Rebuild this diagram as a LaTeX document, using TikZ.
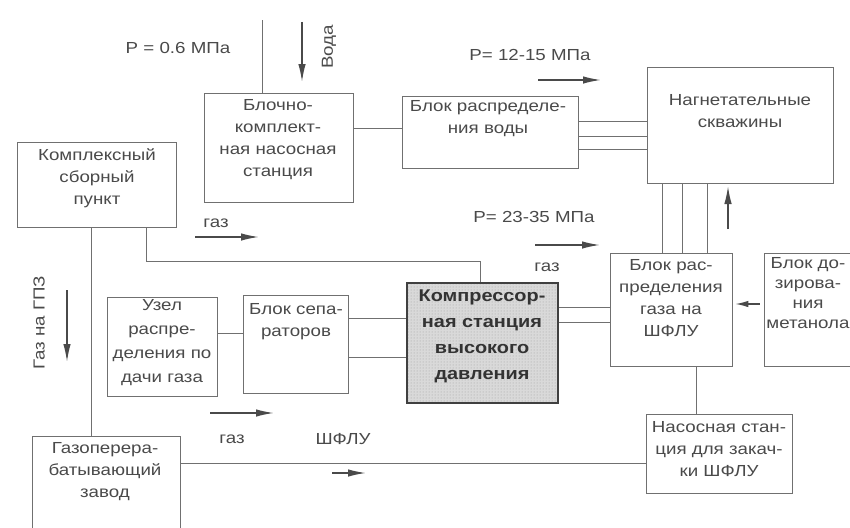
\documentclass[tikz,border=0pt]{standalone}
\usepackage{fontspec}
\setmainfont{Liberation Sans}[FakeStretch=1.17]
\usetikzlibrary{arrows.meta,patterns}
\definecolor{ink}{HTML}{4A4A4A}
\definecolor{wirec}{HTML}{707070}
\begin{document}
\begin{tikzpicture}[x=1pt,y=-1pt,
  box/.style={draw=wirec, line width=0.7pt, inner sep=0pt},
  txt/.style={text=ink, align=center, inner sep=0pt, font=\fontsize{16}{22}\selectfont},
  wire/.style={draw=wirec, line width=0.7pt},
  arr/.style={draw=ink, line width=1.6pt, -{Latex[length=18pt,width=7.5pt]}}]
\useasboundingbox (0,0) rectangle (850,527);
\clip (0,0) rectangle (850,527);
\fill[white] (0,0) rectangle (850,527);

% boxes
\node[box, minimum width=159pt, minimum height=85pt]  (ksp)  at (96.5,184.5) {};
\node[box, minimum width=149pt, minimum height=109pt] (bkns) at (278.5,147.5) {};
\node[box, minimum width=176pt, minimum height=72pt]  (brv)  at (490,132) {};
\node[box, minimum width=186pt, minimum height=116pt] (ns)   at (740,125) {};
\node[box, minimum width=122pt, minimum height=113pt] (brg)  at (671,309.5) {};
\node[box, minimum width=101pt, minimum height=113pt] (bdm)  at (814.5,309.5) {};
\node[box, draw=black!75, line width=1.3pt, preaction={fill=gray!30}, pattern=dots, pattern color=gray!75,
      minimum width=151pt, minimum height=120pt] (ks) at (482.5,343) {};
\node[box, minimum width=110pt, minimum height=99pt]  (uzel) at (162,346.5) {};
\node[box, minimum width=105pt, minimum height=98pt]  (bs)   at (295.5,344) {};
\node[box, minimum width=148pt, minimum height=104pt] (gpz)  at (106,488) {};
\node[box, minimum width=146pt, minimum height=79pt]  (nszs) at (719,453.5) {};

% box texts
\node[txt] (tksp)  at (97,178)  {Комплексный\\сборный\\пункт};
\node[txt] (tbkns) at (278,140) {Блочно-\\комплект-\\ная насосная\\станция};
\node[txt] (tbrv)  at (488,119) {Блок распределе-\\ния воды};
\node[txt] (tns)   at (740,111) {Нагнетательные\\скважины};
\node[txt] (tbrg)  at (671,298) {Блок рас-\\пределения\\газа на\\ШФЛУ};
\node[txt, font=\fontsize{16}{20}\selectfont] (tbdm) at (808,293) {Блок до-\\зирова-\\ния\\метанола};
\node[txt, text=black!80, font=\bfseries\fontsize{17}{26}\selectfont] (tks) at (482,336) {Компрессор-\\ная станция\\высокого\\давления};
\node[txt, font=\fontsize{16}{24}\selectfont] (tuzel) at (162,343) {Узел\\распре-\\деления по\\дачи газа};
\node[txt] (tbs)   at (296,322) {Блок сепа-\\раторов};
\node[txt] (tgpz)  at (105,472) {Газоперера-\\батывающий\\завод};
\node[txt] (tnszs) at (719,449) {Насосная стан-\\ция для закач-\\ки ШФЛУ};

% free labels
\node[txt] (lp06)  at (178,48)  {P = 0.6 МПа};
\node[txt, rotate=90] (lvoda) at (329,47) {Вода};
\node[txt] (lp12)  at (530,55)  {P= 12-15 МПа};
\node[txt] (lp23)  at (534,217) {P= 23-35 МПа};
\node[txt] (lgaz1) at (216,223) {газ};
\node[txt] (lgaz2) at (547,267) {газ};
\node[txt, rotate=90] (lgpz) at (39,323) {Газ на ГПЗ};
\node[txt] (lgaz3) at (232,439) {газ};
\node[txt] (lsh)   at (343,439) {ШФЛУ};

% free ends
\coordinate (wtop) at (263,20);
\coordinate (va) at (302,22);   \coordinate (vb) at (302,82);
\coordinate (a12a) at (538,80); \coordinate (a12b) at (601,80);
\coordinate (a23a) at (535,245); \coordinate (a23b) at (600,245);
\coordinate (upa) at (728,229); \coordinate (upb) at (728,186);
\coordinate (g1a) at (195,237); \coordinate (g1b) at (259,237);
\coordinate (gpa) at (67,290);  \coordinate (gpb) at (67,362);
\coordinate (g3a) at (210,413); \coordinate (g3b) at (274,413);
\coordinate (sha) at (332,473); \coordinate (shb) at (366,473);

% connectors
\coordinate (c0) at ([xshift=59pt]bkns.north west);
\draw[wire] (c0) -- (c0 |- wtop);
\draw[arr] (va) -- (vb);

\coordinate (c1) at ([yshift=19.5pt]bkns.east);
\draw[wire] (c1) -- (c1 -| brv.west);

\coordinate (c2) at ([yshift=11pt]brv.east);
\coordinate (c3) at ([yshift=-4pt]brv.east);
\coordinate (c4) at ([yshift=-17pt]brv.east);
\draw[wire] (c2) -- (c2 -| ns.west);
\draw[wire] (c3) -- (c3 -| ns.west);
\draw[wire] (c4) -- (c4 -| ns.west);

\draw[arr] (a12a) -- (a12b);
\draw[arr] (a23a) -- (a23b);

\coordinate (c5) at ([xshift=16pt]ns.south west);
\coordinate (c6) at ([xshift=36pt]ns.south west);
\coordinate (c7) at ([xshift=61pt]ns.south west);
\draw[wire] (c5) -- (c5 |- brg.north);
\draw[wire] (c6) -- (c6 |- brg.north);
\draw[wire] (c7) -- (c7 |- brg.north);
\draw[arr] (upa) -- (upb);

\coordinate (c8) at ([yshift=5.5pt]bdm.west);
\draw[arr, line width=1.4pt, -{Latex[length=13pt,width=6.5pt]}, shorten <=4pt, shorten >=3pt] (c8) -- (c8 -| brg.east);

\coordinate (c9) at ([yshift=36pt]ks.east);
\coordinate (c10) at ([yshift=21pt]ks.east);
\draw[wire] (c9) -- (c9 -| brg.west);
\draw[wire] (c10) -- (c10 -| brg.west);

\coordinate (c11) at ([xshift=130pt]ksp.south west);
\draw[wire] (c11) -- ++(0,34) -| ([xshift=-2.5pt]ks.north);
\draw[arr] (g1a) -- (g1b);

\coordinate (c12) at ([xshift=75pt]ksp.south west);
\draw[wire] (c12) -- (c12 |- gpz.north);
\draw[arr] (gpa) -- (gpb);

\coordinate (c13) at ([yshift=13.5pt]uzel.east);
\draw[wire] (c13) -- (c13 -| bs.west);

\coordinate (c14) at ([yshift=26pt]bs.east);
\coordinate (c15) at ([yshift=-13pt]bs.east);
\draw[wire] (c14) -- (c14 -| ks.west);
\draw[wire] (c15) -- (c15 -| ks.west);

\draw[arr] (g3a) -- (g3b);

\coordinate (c16) at ([yshift=25pt]gpz.east);
\draw[wire] (c16) -- (c16 -| nszs.west);
\draw[arr] (sha) -- (shb);

\coordinate (c17) at ([xshift=87pt]brg.south west);
\draw[wire] (c17) -- (c17 |- nszs.north);
\end{tikzpicture}
\end{document}
